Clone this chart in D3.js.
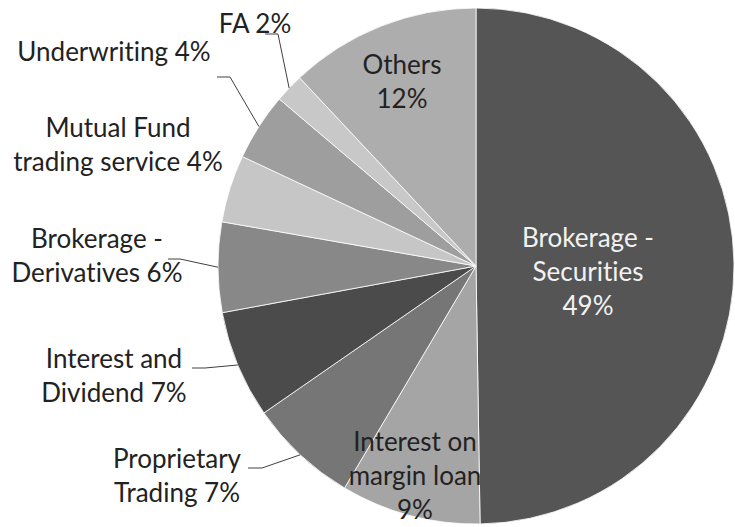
<!DOCTYPE html>
<html>
<head>
<meta charset="utf-8">
<script src="https://cdn.jsdelivr.net/npm/d3@7"></script>
<style>
  body { margin: 0; background: #fff; }
  text { font-family: Lato, "Open Sans", sans-serif; font-variant-ligatures: none; }
</style>
</head>
<body>
<script>
// slices, clockwise from 12 o'clock
const categories = [
  "Brokerage - Securities",
  "Interest on margin loan",
  "Proprietary Trading",
  "Interest and Dividend",
  "Brokerage - Derivatives",
  "Mutual Fund trading service",
  "Underwriting",
  "FA",
  "Others"
];
const shares = [49.4, 8.7, 6.8, 6.7, 5.6, 4.2, 4.2, 1.8, 11.9];
const pctLabels = ["49%", "9%", "7%", "7%", "6%", "4%", "4%", "2%", "12%"];

const sliceColors = ["#555555", "#a5a5a5", "#767676", "#4b4b4b", "#888888",
                     "#c6c6c6", "#9e9e9e", "#c8c8c8", "#adadad"];

// label placement: words on first line, pct on own line?, text centre x, first baseline,
// leader = start + elbow of the connector (end is on the rim)
const labelLayout = [
  { split: 2, pctLine: true,  x: 588, y: 247, fill: "#f2f2f2" },
  { split: 2, pctLine: true,  x: 415, y: 451 },
  { split: 1, pctLine: false, x: 177, y: 468, leader: [[248, 468], [262, 468]] },
  { split: 2, pctLine: false, x: 114, y: 368, leader: [[192, 368], [205, 368]] },
  { split: 2, pctLine: false, x: 97,  y: 248, leader: [[168, 259], [180, 259]] },
  { split: 2, pctLine: false, x: 118, y: 137 },
  { split: 0, pctLine: false, x: 114, y: 61,  leader: [[217, 77], [230, 77]] },
  { split: 0, pctLine: false, x: 255, y: 33,  leader: [[265, 34], [278, 34]] },
  { split: 1, pctLine: true,  x: 402, y: 74 }
];

const width = 735, height = 527;
const cx = 476, cy = 266, radius = 258;
const fontSize = 26, lineGap = 34;

const svg = d3.select("body").append("svg")
  .attr("width", width)
  .attr("height", height);

const pie = d3.pie().sort(null).value(d => d);
const arcs = pie(shares);

const arc = d3.arc().innerRadius(0).outerRadius(radius);
const rim = d3.arc().innerRadius(radius).outerRadius(radius);

const g = svg.append("g").attr("transform", `translate(${cx},${cy})`);

g.selectAll("path.slice")
  .data(arcs)
  .join("path")
  .attr("class", "slice")
  .attr("d", arc)
  .attr("fill", (d, i) => sliceColors[i])
  .attr("stroke", "#ffffff")
  .attr("stroke-width", 0.8);

// connectors
const line = d3.line();
arcs.forEach((d, i) => {
  const lay = labelLayout[i];
  if (!lay.leader) return;
  const end = rim.centroid(d);
  const pts = lay.leader.map(p => [p[0] - cx, p[1] - cy]).concat([end]);
  g.append("path")
    .attr("d", line(pts))
    .attr("fill", "none")
    .attr("stroke", "#404040")
    .attr("stroke-width", 1);
});

// labels
categories.forEach((name, i) => {
  const lay = labelLayout[i];
  const words = name.split(" ");
  let lines = lay.split > 0 && lay.split < words.length
    ? [words.slice(0, lay.split).join(" "), words.slice(lay.split).join(" ")]
    : [name];
  if (lay.pctLine) lines.push(pctLabels[i]);
  else lines[lines.length - 1] += " " + pctLabels[i];

  const t = svg.append("text")
    .attr("text-anchor", "middle")
    .attr("font-size", fontSize)
    .attr("fill", lay.fill || "#222222");
  lines.forEach((s, k) => {
    t.append("tspan")
      .attr("x", lay.x)
      .attr("y", lay.y + k * lineGap)
      .text(s);
  });
});
</script>
</body>
</html>
